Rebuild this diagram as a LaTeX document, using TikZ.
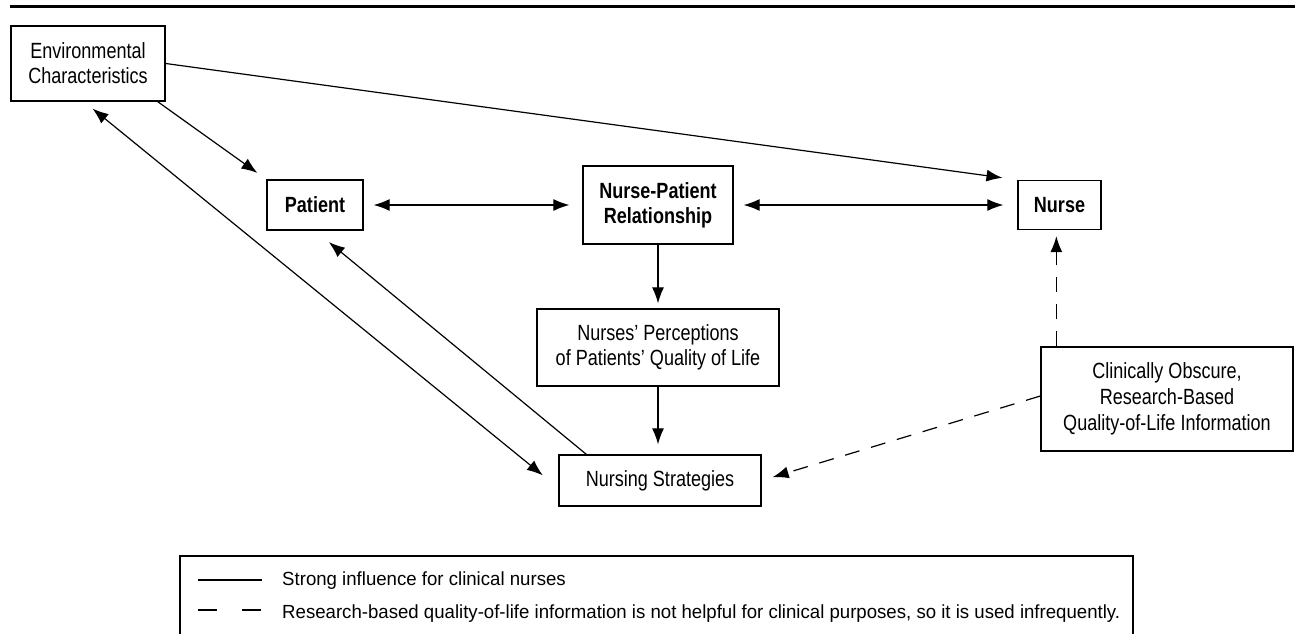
\documentclass[tikz,border=0pt]{standalone}
\usepackage{fontspec}
\setmainfont{Liberation Sans}[FakeStretch=0.82]
\newfontfamily\keyfont{Liberation Sans}[FakeStretch=0.98]
\usetikzlibrary{arrows.meta, positioning}
\tikzset{box/.style={draw,line width=1.3pt,align=center,inner sep=0pt,
                     font=\fontsize{22}{25}\selectfont},
         conn/.style={line width=1.2pt,-{Latex[length=16pt,width=12pt]}},
         both/.style={conn,{Latex[length=16pt,width=12pt]}-{Latex[length=16pt,width=12pt]}},
         weak/.style={conn,dash pattern=on 15pt off 12pt},
         keytext/.style={anchor=base west,inner sep=0pt,font=\keyfont\fontsize{19}{20}\selectfont}}

\begin{document}
\begin{tikzpicture}[x=1pt,y=-1pt]
        \useasboundingbox (0,0) rectangle (1295,634);
        \draw[line width=3pt](10,6.5)--(1295,6.5);

        \node[box, minimum width=154pt, minimum height=75pt](env)at(88,63.5){Environmental\\Characteristics};
        \node[box, minimum width=96pt, minimum height=50pt, font=\fontsize{22}{25}\selectfont\bfseries](pat)at(315,205){Patient};
        \node[box, minimum width=150pt, minimum height=78pt, font=\fontsize{22}{25}\selectfont\bfseries](npr)at(658,205){Nurse-Patient\\Relationship};
        \node[box, minimum width=83pt, minimum height=49pt, font=\fontsize{22}{25}\selectfont\bfseries](nurse)at(1059.5,205){Nurse};
        \node[box, minimum width=242pt, minimum height=77pt](perc)at(658,347.5){Nurses’ Perceptions\\of Patients’ Quality of Life};
        \node[box, minimum width=202pt, minimum height=51pt](strat)at(660,480.5){Nursing Strategies};
        \node[box, minimum width=252pt, minimum height=104pt, font=\fontsize{22}{26}\selectfont](info)at(1167,399){Clinically Obscure,\\Research-Based\\Quality-of-Life Information};

        \draw[conn, shorten >=15pt](env.east)--(nurse.north west);
        \draw[conn, shorten >=11pt]([xshift=-8pt]env.south east)--(pat.north west);
        \draw[both, shorten <=11pt, shorten >=20pt]([xshift=-4pt]env.south)--([yshift=-7.5pt]strat.west);
        \draw[conn, shorten >=18pt]([xshift=28pt]strat.north west)--(pat.south);
        \draw[both, shorten <=10pt, shorten >=13pt](pat.east)--(npr.west);
        \draw[both, shorten <=10pt, shorten >=14pt](npr.east)--(nurse.west);
        \draw[conn, shorten >=5pt](npr.south)--(perc.north);
        \draw[conn, shorten >=10pt](perc.south)--(perc.south |- strat.north);
        \draw[weak, shorten >=11.5pt]([yshift=3pt]info.west)--(strat.east);
        \coordinate (up) at ([xshift=16pt]info.north west);
        \draw[weak, shorten >=6pt](up)--(up |- nurse.south);

        % key
        \draw[line width=1.5pt](180,634)--(180,556)--(1133,556)--(1133,634);
        \draw[line width=1.1pt](198,580)--(262,580);
        \draw[line width=1.1pt, dash pattern=on 19pt off 25pt](198,610)--(262,610);
        \node[keytext](k1)at(282,585.5){Strong influence for clinical nurses};
        \node[keytext](k2)at(282,618){Research-based quality-of-life information is not helpful for clinical purposes, so it is used infrequently.};
    \end{tikzpicture}
\end{document}
